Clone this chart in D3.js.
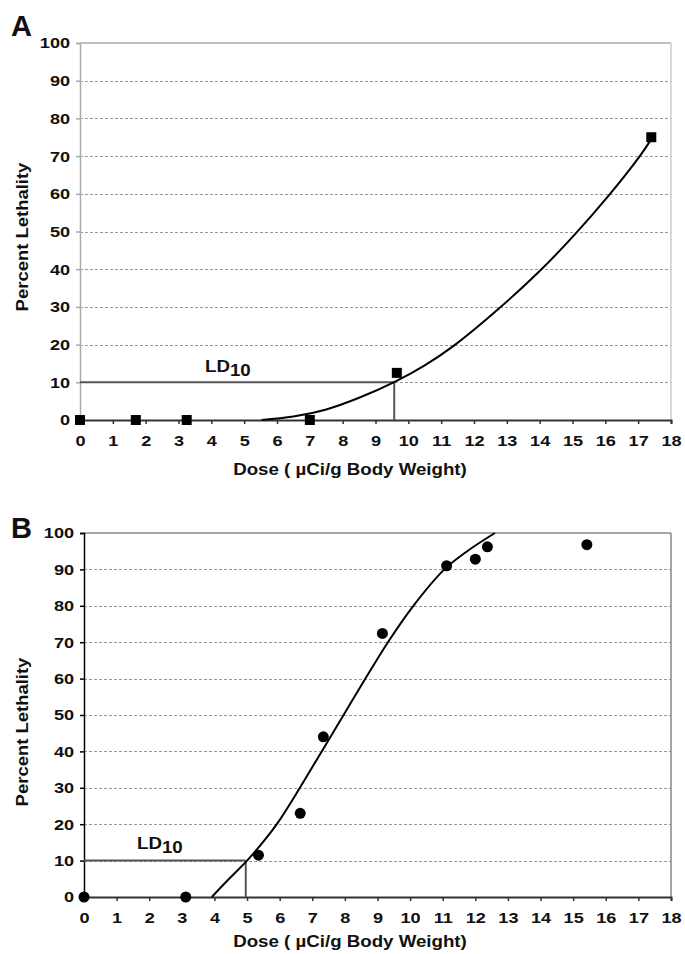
<!DOCTYPE html>
<meta charset="utf-8">
<style>
  body {
    margin: 0;
    background: #fff;
  }

  svg {
    font-family: "Liberation Sans", Arial, sans-serif;
    font-weight: bold;
  }

  .grid line {
    stroke: #999;
    stroke-dasharray: 3, 2;
    shape-rendering: crispEdges;
  }

  .fit {
    fill: none;
    stroke: #000;
    stroke-width: 2;
  }

  .ld line {
    stroke: #555;
    stroke-width: 2;
  }
</style>

<body>
  <script src="https://cdn.jsdelivr.net/npm/d3@7"></script>
  <script>

    // tick values shared by both panels
    var xTicks = [0, 1, 2, 3, 4, 5, 6, 7, 8, 9, 10, 11, 12, 13, 14, 15, 16, 17, 18];
    var yTicks = [0, 10, 20, 30, 40, 50, 60, 70, 80, 90, 100];

    // panel A: observed points (squares)
    var doseA = [0, 1.7, 3.25, 7.0, 9.65, 17.4];
    var lethalA = [0, 0, 0, 0, 12.5, 75];
    // panel A: fitted curve
    var fitDoseA = [5.53, 6.5, 7.5, 8.5, 9.6, 10.5, 11.4, 12.75, 14.0, 15.1, 16.1, 17.05, 17.4];
    var fitLethalA = [0, 0.9, 2.8, 5.9, 10.2, 14.5, 19.8, 29.5, 39.5, 49.5, 59.5, 70, 74.5];
    var ld10A = 9.57;

    // panel B: observed points (circles)
    var doseB = [0, 3.12, 5.35, 6.63, 7.34, 9.15, 11.12, 12.0, 12.37, 15.42];
    var lethalB = [0, 0, 11.5, 23, 44, 72.4, 91, 92.8, 96.2, 96.8];
    // panel B: fitted curve
    var fitDoseB = [3.92, 4.45, 5.0, 5.5, 5.95, 6.62, 7.29, 7.96, 8.63, 9.32, 10.1, 11.05, 11.75, 12.6];
    var fitLethalB = [0, 5, 10, 15.2, 20.5, 30, 40, 50, 60, 70, 80, 90, 95, 100];
    var ld10B = 4.96;

    // the original lettering is wider than Liberation Sans, so stretch it a bit
    var stretch = 1.17;

    var svg = d3.select("body").append("svg")
      .attr("width", 685)
      .attr("height", 954);

    drawPanel({
      label: "A", left: 80, right: 671, top: 43, bottom: 420,
      dose: doseA, lethal: lethalA, fitDose: fitDoseA, fitLethal: fitLethalA, ld10: ld10A,
      marker: "square", leftAxis: "#aaa", topLine: "#aaa", rightLine: "#ccc",
      ldText: [205, 372], titleY: 475, yTitleX: 28, yTitleY: 237, letterY: 36
    });

    drawPanel({
      label: "B", left: 84, right: 671, top: 533, bottom: 897,
      dose: doseB, lethal: lethalB, fitDose: fitDoseB, fitLethal: fitLethalB, ld10: ld10B,
      marker: "circle", leftAxis: "#000", topLine: "#888", rightLine: "#888",
      ldText: [137, 849], titleY: 947, yTitleX: 28, yTitleY: 732, letterY: 538
    });

    function drawPanel(p) {
      var g = svg.append("g");

      var x = d3.scaleLinear().domain([0, 18]).range([p.left, p.right]);
      var y = d3.scaleLinear().domain([0, 100]).range([p.bottom, p.top]);

      // dotted gridlines between 0 and 100
      g.append("g").attr("class", "grid")
        .selectAll("line")
        .data(yTicks.filter(function (d) { return d > 0 && d < 100; }))
        .enter().append("line")
        .attr("x1", x(0))
        .attr("x2", x(18))
        .attr("y1", function (d) { return Math.round(y(d)) + 0.5; })
        .attr("y2", function (d) { return Math.round(y(d)) + 0.5; });

      // frame: top and right
      g.append("line")
        .attr("x1", x(0)).attr("x2", x(18))
        .attr("y1", y(100)).attr("y2", y(100))
        .attr("stroke", p.topLine).attr("stroke-width", 1.5);
      g.append("line")
        .attr("x1", x(18)).attr("x2", x(18))
        .attr("y1", y(100)).attr("y2", y(0))
        .attr("stroke", p.rightLine).attr("stroke-width", 1.5);

      // y axis
      var yAxis = g.append("g")
        .attr("transform", "translate(" + x(0) + ",0)")
        .call(d3.axisLeft(y).tickValues(yTicks).tickSize(4).tickPadding(4.5));
      yAxis.attr("font-family", null).attr("font-size", 15.5);
      yAxis.select(".domain").attr("stroke", p.leftAxis).attr("stroke-width", 1.5);
      yAxis.selectAll(".tick line").attr("stroke", p.leftAxis).attr("stroke-width", 1.5);
      yAxis.selectAll("text")
        .attr("fill", "#111")
        .attr("transform", "scale(" + stretch + ",1)");

      // x axis
      var xAxis = g.append("g")
        .attr("transform", "translate(0," + y(0) + ")")
        .call(d3.axisBottom(x).tickValues(xTicks).tickSize(4).tickPadding(11));
      xAxis.attr("font-family", null).attr("font-size", 15.5);
      xAxis.select(".domain").attr("stroke", "#333").attr("stroke-width", 2);
      xAxis.selectAll(".tick line").attr("stroke", "#333").attr("stroke-width", 1.5);
      xAxis.selectAll("text")
        .attr("fill", "#111")
        .attr("transform", "scale(" + stretch + ",1)");

      // LD10 guide lines
      var ld = g.append("g").attr("class", "ld");
      ld.append("line")
        .attr("x1", x(0)).attr("x2", x(p.ld10))
        .attr("y1", y(10)).attr("y2", y(10));
      ld.append("line")
        .attr("x1", x(p.ld10)).attr("x2", x(p.ld10))
        .attr("y1", y(10)).attr("y2", y(0));

      var ldLabel = g.append("text")
        .attr("transform", "translate(" + p.ldText[0] + "," + p.ldText[1] + ") scale(" + stretch + ",1)")
        .attr("font-size", 16)
        .attr("fill", "#111")
        .text("LD");
      ldLabel.append("tspan")
        .attr("dy", 4)
        .text("10");

      // fitted curve
      var line = d3.line()
        .x(function (d) { return x(d[0]); })
        .y(function (d) { return y(d[1]); })
        .curve(d3.curveCatmullRom.alpha(0.5));

      g.append("path")
        .attr("class", "fit")
        .attr("d", line(d3.zip(p.fitDose, p.fitLethal)));

      // observed points
      var pts = d3.zip(p.dose, p.lethal);
      if (p.marker === "square") {
        g.selectAll(".pt")
          .data(pts)
          .enter().append("rect")
          .attr("x", function (d) { return x(d[0]) - 5; })
          .attr("y", function (d) { return y(d[1]) - 5; })
          .attr("width", 10)
          .attr("height", 10)
          .attr("fill", "#000");
      } else {
        g.selectAll(".pt")
          .data(pts)
          .enter().append("circle")
          .attr("cx", function (d) { return x(d[0]); })
          .attr("cy", function (d) { return y(d[1]); })
          .attr("r", 5.5)
          .attr("fill", "#000");
      }

      // axis titles
      g.append("text")
        .attr("transform", "translate(350," + p.titleY + ") scale(1.1,1)")
        .attr("text-anchor", "middle")
        .attr("font-size", 17)
        .attr("fill", "#111")
        .text("Dose ( \u00b5Ci/g Body Weight)");

      g.append("text")
        .attr("transform", "translate(" + p.yTitleX + "," + p.yTitleY + ") rotate(-90) scale(1.12,1)")
        .attr("text-anchor", "middle")
        .attr("font-size", 16.5)
        .attr("fill", "#111")
        .text("Percent Lethality");

      // panel letter
      g.append("text")
        .attr("x", 11)
        .attr("y", p.letterY)
        .attr("font-size", 29)
        .attr("fill", "#111")
        .text(p.label);
    }
  </script>
</body>

</html>
